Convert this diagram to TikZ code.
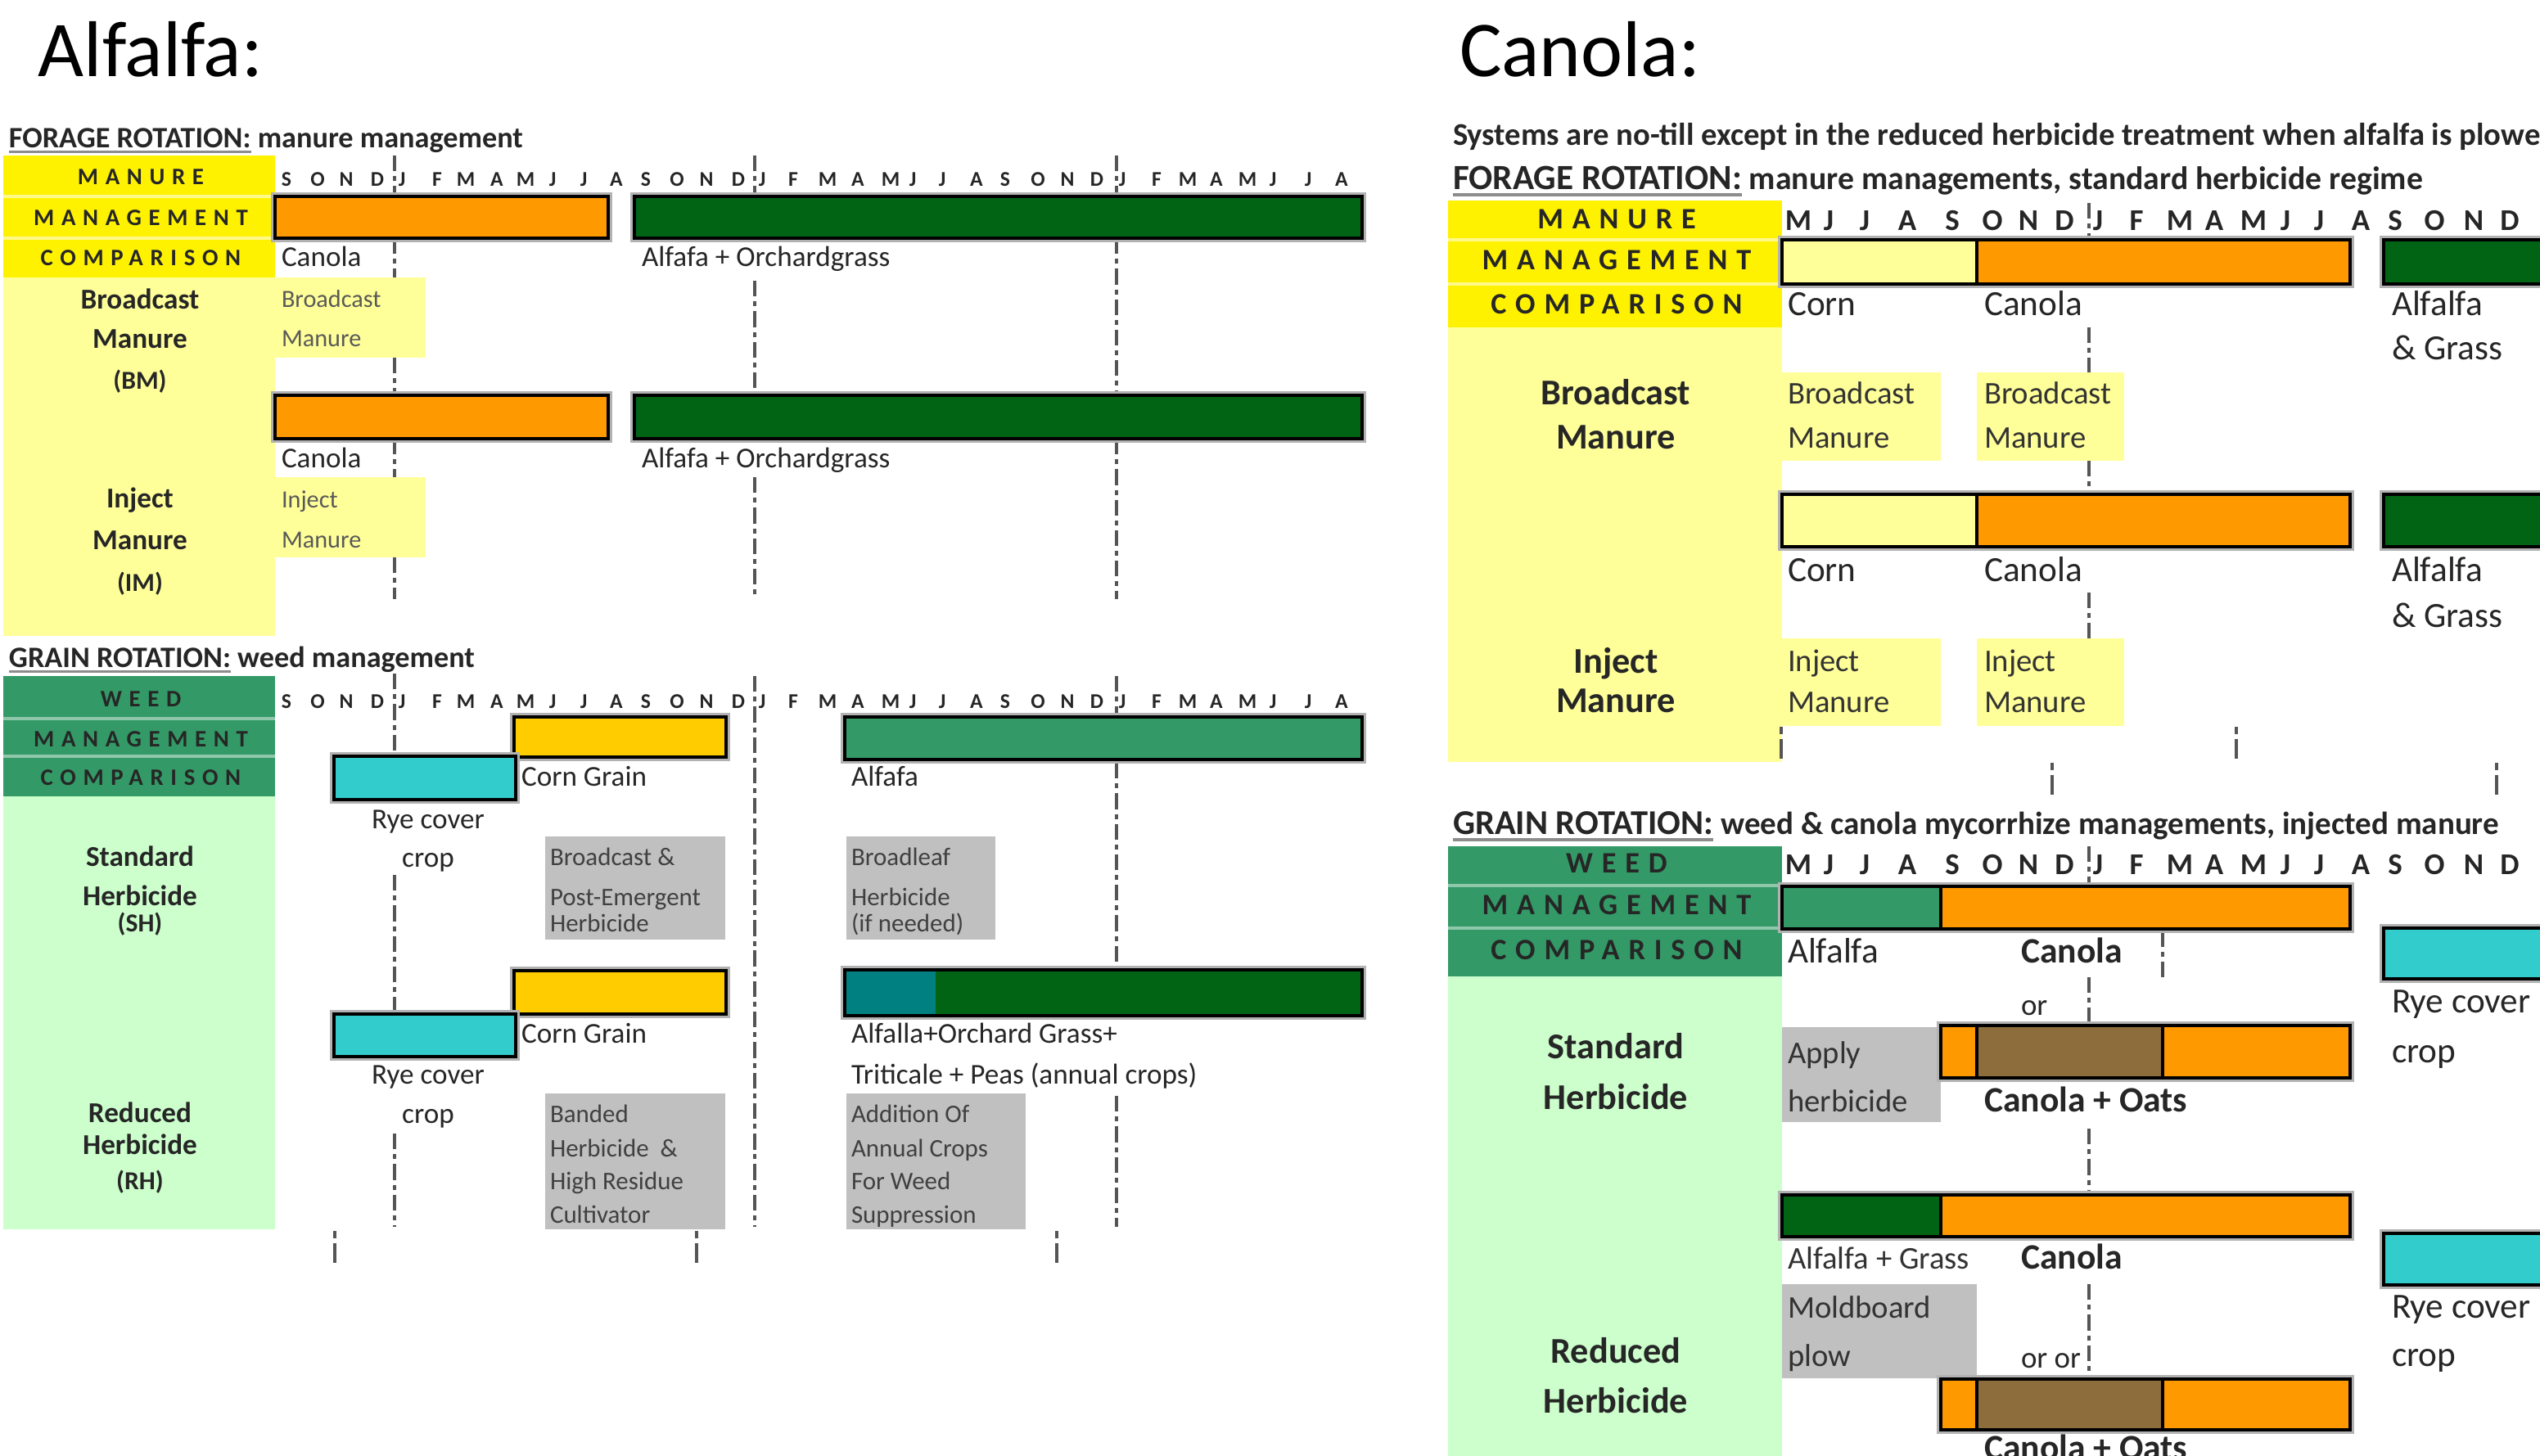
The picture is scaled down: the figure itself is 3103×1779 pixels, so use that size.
\documentclass[tikz,border=0pt]{standalone}
\usepackage{fontspec}
\setmainfont{Carlito}
\newfontfamily\spcfont[LetterSpace=30]{Carlito}
\newcommand\FSz[1]{\fontsize{#1pt}{#1pt}\selectfont}
\definecolor{hdrY}{HTML}{FFF200}
\definecolor{ltY}{HTML}{FFFF99}
\definecolor{orng}{HTML}{FF9900}
\definecolor{dkG}{HTML}{006414}
\definecolor{mdG}{HTML}{339966}
\definecolor{ltG}{HTML}{CCFFCC}
\definecolor{cyn}{HTML}{33CCCC}
\definecolor{gld}{HTML}{FFCC00}
\definecolor{tel}{HTML}{008080}
\definecolor{gbx}{HTML}{C0C0C0}
\definecolor{brn}{HTML}{8C6D3B}
\definecolor{txtc}{HTML}{262626}
\definecolor{dashc}{HTML}{555555}
\begin{document}
\begin{tikzpicture}[x=0.01cm,y=-0.01cm,
  txt/.style={inner sep=0pt,outer sep=0pt,anchor=west,text height=0.7em,text depth=0.18em,text=txtc},
  ctxt/.style={txt,anchor=center},
  monA/.style={ctxt,font=\bfseries\FSz{7.3},text=black!85},
  monB/.style={ctxt,font=\bfseries\FSz{10.5},text=black!85},
  hdA/.style={ctxt,font=\spcfont\bfseries\FSz{8.2},text=black!85},
  hdB/.style={ctxt,font=\spcfont\bfseries\FSz{10.3},text=black!85},
  dsh/.style={draw=dashc,line width=0.9pt,dash pattern=on 5.5pt off 1.7pt on 1.7pt off 1.7pt},
  mk/.style={draw=dashc,line width=0.9pt,dash pattern=on 2.5pt off 1.7pt on 7pt off 3pt},
  halo/.style={draw=black!30,line width=2.6pt},
  barline/.style={draw=black,line width=1pt},
  ul/.style={draw=black!45,line width=0.9pt},
  hdiv/.style={line width=1.2pt},
  lbA/.style={ctxt,font=\bfseries\FSz{10}},
  lbAs/.style={ctxt,font=\bfseries\FSz{9}},
  lbB/.style={ctxt,font=\bfseries\FSz{12.6}},
  tA/.style={txt,font=\FSz{10}},
  tAs/.style={txt,font=\FSz{8.6},text=black!65},
  tAg/.style={txt,font=\FSz{8.8},text=black!75},
  tB/.style={txt,font=\FSz{12.3}},
  tBs/.style={txt,font=\FSz{11},text=black!80},
  tBb/.style={txt,font=\bfseries\FSz{12.4}}
]
\useasboundingbox (0,0) rectangle (3103,1779);
\clip (0,0) rectangle (3103,1779);

% ================= LEFT PANEL (Alfalfa) =================
\node[txt,font=\FSz{27.5},text=black] (tAlf) at (47,84) {Alfalfa:};

% forage heading
\node[txt,font=\bfseries\FSz{10.3}] (hA1) at (11,171) {FORAGE ROTATION:};
\node[txt,font=\bfseries\FSz{10.3},anchor=base west] (hA2) at (hA1.base east) {\ manure management};
\draw[ul] ([yshift=-1.6pt]hA1.base west) -- ([yshift=-1.6pt]hA1.base east);

% backgrounds
\fill[hdrY] (4,190) rectangle (336,339);
\draw[hdrY!45!white,hdiv] (4,240) -- (336,240) (4,291) -- (336,291);
\fill[ltY] (4,339) rectangle (336,777);
\fill[ltY] (336,339) rectangle (520,437);
\fill[ltY] (336,583) rectangle (520,681);

\node[hdA] (hyA1) at (172,216) {MANURE};
\node[hdA] (hyA2) at (172,266) {MANAGEMENT};
\node[hdA] (hyA3) at (172,315) {COMPARISON};

% months
\foreach \l/\x [count=\i] in {S/350,O/388,N/423,D/461,J/491,F/534,M/569,A/607,M/642,J/675,J/713,A/753,S/789,O/827,N/863,D/902,J/931,F/969,M/1011,A/1048,M/1088,J/1115,J/1151,A/1193,S/1228,O/1268,N/1304,D/1340,J/1371,F/1413,M/1451,A/1486,M/1524,J/1555,J/1598,A/1639}
  \node[monA] (mA\i) at (\x,218) {\l};

% grid lines
\draw[dsh] (482,190) -- (482,240) (482,291) -- (482,339) (482,437) -- (482,483) (482,536) -- (482,583) (482,681) -- (482,732);
\draw[dsh] (922,190) -- (922,240) (922,343) -- (922,483) (922,583) -- (922,732);
\draw[dsh] (1364,190) -- (1364,240) (1364,291) -- (1364,483) (1364,536) -- (1364,732);

% bars
\draw[halo] (336,240) rectangle (743,291);
\filldraw[fill=orng,barline] (336,240) rectangle (743,291);
\draw[halo] (775,240) rectangle (1664,291);
\filldraw[fill=dkG,barline] (775,240) rectangle (1664,291);
\draw[halo] (336,483) rectangle (743,536);
\filldraw[fill=orng,barline] (336,483) rectangle (743,536);
\draw[halo] (775,483) rectangle (1664,536);
\filldraw[fill=dkG,barline] (775,483) rectangle (1664,536);

\node[tA] (lfC1) at (344,316) {Canola};
\node[tA] (lfA1) at (784,316) {Alfafa + Orchardgrass};
\node[tAs] (lfB1) at (344,366) {Broadcast};
\node[tAs] (lfB2) at (344,414) {Manure};
\node[tA] (lfC2) at (344,562) {Canola};
\node[tA] (lfA2) at (784,562) {Alfafa + Orchardgrass};
\node[tAs] (lfI1) at (344,611) {Inject};
\node[tAs] (lfI2) at (344,660) {Manure};

\node[lbA] (lfL1) at (171,368) {Broadcast};
\node[lbA] (lfL2) at (171,416) {Manure};
\node[lbAs] (lfL3) at (171,466) {(BM)};
\node[lbA] (lfL4) at (171,611) {Inject};
\node[lbA] (lfL5) at (171,662) {Manure};
\node[lbAs] (lfL6) at (171,713) {(IM)};

% grain heading
\node[txt,font=\bfseries\FSz{10.3}] (hB1) at (11,806) {GRAIN ROTATION:};
\node[txt,font=\bfseries\FSz{10.3},anchor=base west] (hB2) at (hB1.base east) {\ weed management};
\draw[ul] ([yshift=-1.6pt]hB1.base west) -- ([yshift=-1.6pt]hB1.base east);

\fill[mdG] (4,826) rectangle (336,973);
\draw[mdG!55!white,hdiv] (4,878) -- (336,878) (4,924) -- (336,924);
\fill[ltG] (4,973) rectangle (336,1502);
\node[hdA] (hgA1) at (172,854) {WEED};
\node[hdA] (hgA2) at (172,903) {MANAGEMENT};
\node[hdA] (hgA3) at (172,950) {COMPARISON};

\foreach \l/\x [count=\i] in {S/350,O/388,N/423,D/461,J/491,F/534,M/569,A/607,M/642,J/675,J/713,A/753,S/789,O/827,N/863,D/902,J/931,F/969,M/1011,A/1048,M/1088,J/1115,J/1151,A/1193,S/1228,O/1268,N/1304,D/1340,J/1371,F/1413,M/1451,A/1486,M/1524,J/1555,J/1598,A/1639}
  \node[monA] (mB\i) at (\x,856) {\l};

\fill[gbx] (666,1022) rectangle (886,1148);
\fill[gbx] (1034,1022) rectangle (1216,1148);
\fill[gbx] (666,1336) rectangle (886,1502);
\fill[gbx] (1034,1336) rectangle (1253,1502);

\draw[dsh] (482,823) -- (482,924) (482,1069) -- (482,1239) (482,1385) -- (482,1499);
\draw[dsh] (922,826) -- (922,1499);
\draw[dsh] (1364,826) -- (1364,876) (1364,932) -- (1364,1185) (1364,1339) -- (1364,1499);
\draw[mk] (409,1504) -- (409,1547) (851,1504) -- (851,1547) (1291,1504) -- (1291,1547);

\draw[halo] (628,876) rectangle (887,925);
\filldraw[fill=gld,barline] (628,876) rectangle (887,925);
\draw[halo] (408,924) rectangle (630,977);
\filldraw[fill=cyn,barline] (408,924) rectangle (630,977);
\draw[halo] (1032,876) rectangle (1664,928);
\filldraw[fill=mdG,barline] (1032,876) rectangle (1664,928);
\draw[halo] (628,1186) rectangle (887,1239);
\filldraw[fill=gld,barline] (628,1186) rectangle (887,1239);
\draw[halo] (408,1239) rectangle (630,1291);
\filldraw[fill=cyn,barline] (408,1239) rectangle (630,1291);
\draw[halo] (1032,1185) rectangle (1664,1241);
\fill[dkG] (1143,1185) rectangle (1664,1241);
\fill[tel] (1032,1185) rectangle (1143,1241);
\draw[barline] (1032,1185) rectangle (1664,1241);

\node[tA] (lgCG1) at (637,951) {Corn Grain};
\node[tA,anchor=center] (lgR1) at (523,1003) {Rye cover};
\node[tA,anchor=center] (lgR2) at (523,1050) {crop};
\node[tAg] (lgG1a) at (672,1048) {Broadcast \&};
\node[tAg] (lgG1b) at (672,1097) {Post-Emergent};
\node[tAg] (lgG1c) at (672,1129) {Herbicide};
\node[tA] (lgAl) at (1040,951) {Alfafa};
\node[tAg] (lgG2a) at (1040,1048) {Broadleaf};
\node[tAg] (lgG2b) at (1040,1097) {Herbicide};
\node[tAg] (lgG2c) at (1040,1129) {(if needed)};
\node[tA] (lgCG2) at (637,1265) {Corn Grain};
\node[tA,anchor=center] (lgR3) at (523,1315) {Rye cover};
\node[tA,anchor=center] (lgR4) at (523,1363) {crop};
\node[tAg] (lgG3a) at (672,1362) {Banded};
\node[tAg] (lgG3b) at (672,1404) {Herbicide \ \&};
\node[tAg] (lgG3c) at (672,1444) {High Residue};
\node[tAg] (lgG3d) at (672,1485) {Cultivator};
\node[tA] (lgAO1) at (1040,1265) {Alfalla+Orchard Grass+};
\node[tA] (lgAO2) at (1040,1315) {Triticale + Peas (annual crops)};
\node[tAg] (lgG4a) at (1040,1362) {Addition Of};
\node[tAg] (lgG4b) at (1040,1404) {Annual Crops};
\node[tAg] (lgG4c) at (1040,1444) {For Weed};
\node[tAg] (lgG4d) at (1040,1485) {Suppression};

\node[lbA] (lgL1) at (171,1049) {Standard};
\node[lbA] (lgL2) at (171,1097) {Herbicide};
\node[lbAs] (lgL3) at (171,1129) {(SH)};
\node[lbA] (lgL4) at (171,1362) {Reduced};
\node[lbA] (lgL5) at (171,1401) {Herbicide};
\node[lbAs] (lgL6) at (171,1444) {(RH)};

% ================= RIGHT PANEL (Canola) =================
\node[txt,font=\FSz{27.5},text=black] (tCan) at (1783,84) {Canola:};
\node[txt,font=\bfseries\FSz{11}] (rS) at (1775,168) {Systems are no-till except in the reduced herbicide treatment when alfalfa is plowed};
\node[txt,font=\bfseries\FSz{12.3}] (rH1) at (1775,222) {FORAGE ROTATION:};
\node[txt,font=\bfseries\FSz{11.3},anchor=base west] (rH2) at (rH1.base east) {\ manure managements, standard herbicide regime};
\draw[ul,line width=1.1pt] ([yshift=-1.9pt]rH1.base west) -- ([yshift=-1.9pt]rH1.base east);

\fill[hdrY] (1769,245) rectangle (2177,400);
\draw[hdrY!45!white,hdiv] (1769,293) -- (2177,293) (1769,347) -- (2177,347);
\fill[ltY] (1769,400) rectangle (2177,931);
\fill[ltY] (2177,455) rectangle (2371,563);
\fill[ltY] (2415,455) rectangle (2595,563);
\fill[ltY] (2177,780) rectangle (2371,887);
\fill[ltY] (2415,780) rectangle (2595,887);
\node[hdB] (hyB1) at (1975,270) {MANURE};
\node[hdB] (hyB2) at (1975,320) {MANAGEMENT};
\node[hdB] (hyB3) at (1975,374) {COMPARISON};

\foreach \l/\x [count=\i] in {M/2197,J/2234,J/2278,A/2330,S/2385,O/2434,N/2478,D/2522,J/2563,F/2610,M/2663,A/2705,M/2753,J/2792,J/2833,A/2884,S/2926,O/2974,N/3022,D/3066}
  \node[monB] (mC\i) at (\x,272) {\l};

\draw[dsh] (2552,248) -- (2552,293) (2552,400) -- (2552,455) (2552,563) -- (2552,604) (2552,724) -- (2552,780);
\draw[mk] (2176,888) -- (2176,932) (2732,888) -- (2732,932) (2507,932) -- (2507,977) (3050,932) -- (3050,977);

\draw[halo] (2177,293) rectangle (2871,347);
\filldraw[fill=ltY,barline] (2177,293) rectangle (2415,347);
\filldraw[fill=orng,barline] (2415,293) rectangle (2871,347);
\draw[halo] (2912,293) rectangle (3130,347);
\filldraw[fill=dkG,barline] (2912,293) rectangle (3130,347);
\draw[halo] (2177,604) rectangle (2871,668);
\filldraw[fill=ltY,barline] (2177,604) rectangle (2415,668);
\filldraw[fill=orng,barline] (2415,604) rectangle (2871,668);
\draw[halo] (2912,604) rectangle (3130,668);
\filldraw[fill=dkG,barline] (2912,604) rectangle (3130,668);

\node[tB] (rfC1) at (2184,376) {Corn};
\node[tB] (rfK1) at (2424,376) {Canola};
\node[tB] (rfA1) at (2922,376) {Alfalfa};
\node[tB] (rfG1) at (2922,430) {\& Grass};
\node[tBs] (rfB1) at (2184,484) {Broadcast};
\node[tBs] (rfB2) at (2184,538) {Manure};
\node[tBs] (rfB3) at (2424,484) {Broadcast};
\node[tBs] (rfB4) at (2424,538) {Manure};
\node[tB] (rfC2) at (2184,701) {Corn};
\node[tB] (rfK2) at (2424,701) {Canola};
\node[tB] (rfA2) at (2922,701) {Alfalfa};
\node[tB] (rfG2) at (2922,757) {\& Grass};
\node[tBs] (rfI1) at (2184,811) {Inject};
\node[tBs] (rfI2) at (2184,861) {Manure};
\node[tBs] (rfI3) at (2424,811) {Inject};
\node[tBs] (rfI4) at (2424,861) {Manure};

\node[lbB] (rfL1) at (1974,485) {Broadcast};
\node[lbB] (rfL2) at (1974,539) {Manure};
\node[lbB] (rfL3) at (1974,813) {Inject};
\node[lbB] (rfL4) at (1974,861) {Manure};

% grain
\node[txt,font=\bfseries\FSz{12.1}] (rG1) at (1775,1010) {GRAIN ROTATION:};
\node[txt,font=\bfseries\FSz{11.1},anchor=base west] (rG2) at (rG1.base east) {\ weed \& canola mycorrhize managements, injected manure};
\draw[ul,line width=1.1pt] ([yshift=-1.9pt]rG1.base west) -- ([yshift=-1.9pt]rG1.base east);

\fill[mdG] (1769,1034) rectangle (2177,1193);
\draw[mdG!55!white,hdiv] (1769,1082) -- (2177,1082) (1769,1134) -- (2177,1134);
\fill[ltG] (1769,1193) rectangle (2177,1790);
\fill[gbx] (2177,1255) rectangle (2371,1371);
\fill[gbx] (2177,1569) rectangle (2415,1684);
\node[hdB] (hgB1) at (1975,1057) {WEED};
\node[hdB] (hgB2) at (1975,1108) {MANAGEMENT};
\node[hdB] (hgB3) at (1975,1163) {COMPARISON};

\foreach \l/\x [count=\i] in {M/2197,J/2234,J/2278,A/2330,S/2385,O/2434,N/2478,D/2522,J/2563,F/2610,M/2663,A/2705,M/2753,J/2792,J/2833,A/2884,S/2926,O/2974,N/3022,D/3066}
  \node[monB] (mD\i) at (\x,1059) {\l};

\draw[dsh] (2552,1034) -- (2552,1083) (2552,1194) -- (2552,1253) (2552,1379) -- (2552,1460) (2552,1569) -- (2552,1685);
\draw[dsh] (2642,1138) -- (2642,1194);

\draw[halo] (2177,1083) rectangle (2871,1135);
\filldraw[fill=mdG,barline] (2177,1083) rectangle (2371,1135);
\filldraw[fill=orng,barline] (2371,1083) rectangle (2871,1135);
\draw[halo] (2912,1134) rectangle (3130,1196);
\filldraw[fill=cyn,barline] (2912,1134) rectangle (3130,1196);
\draw[halo] (2371,1253) rectangle (2871,1317);
\filldraw[fill=orng,barline] (2371,1253) rectangle (2415,1317);
\filldraw[fill=brn,barline] (2415,1253) rectangle (2642,1317);
\filldraw[fill=orng,barline] (2642,1253) rectangle (2871,1317);
\draw[halo] (2177,1460) rectangle (2871,1511);
\filldraw[fill=dkG,barline] (2177,1460) rectangle (2371,1511);
\filldraw[fill=orng,barline] (2371,1460) rectangle (2871,1511);
\draw[halo] (2912,1507) rectangle (3130,1570);
\filldraw[fill=cyn,barline] (2912,1507) rectangle (3130,1570);
\draw[halo] (2371,1685) rectangle (2871,1747);
\filldraw[fill=orng,barline] (2371,1685) rectangle (2415,1747);
\filldraw[fill=brn,barline] (2415,1685) rectangle (2642,1747);
\filldraw[fill=orng,barline] (2642,1685) rectangle (2871,1747);

\node[tB] (rgA1) at (2184,1167) {Alfalfa};
\node[tBb] (rgK1) at (2469,1167) {Canola};
\node[tB] (rgR1) at (2922,1228) {Rye cover};
\node[tB] (rgR2) at (2922,1289) {crop};
\node[txt,font=\FSz{10.5}] (rgO1) at (2469,1231) {or};
\node[tBs] (rgP1) at (2184,1290) {Apply};
\node[tBs] (rgP2) at (2184,1349) {herbicide};
\node[tBb] (rgCO1) at (2424,1349) {Canola + Oats};
\node[tBs] (rgA2) at (2184,1541) {Alfalfa + Grass};
\node[tBb] (rgK2) at (2469,1541) {Canola};
\node[tB] (rgR3) at (2922,1601) {Rye cover};
\node[tB] (rgR4) at (2922,1660) {crop};
\node[tBs] (rgM1) at (2184,1601) {Moldboard};
\node[tBs] (rgM2) at (2184,1660) {plow};
\node[txt,font=\FSz{10.5}] (rgO2) at (2469,1662) {or or};
\node[tBb] (rgCO2) at (2424,1774) {Canola + Oats};

\node[lbB] (rgL1) at (1974,1284) {Standard};
\node[lbB] (rgL2) at (1974,1346) {Herbicide};
\node[lbB] (rgL3) at (1974,1656) {Reduced};
\node[lbB] (rgL4) at (1974,1717) {Herbicide};
\end{tikzpicture}
\end{document}
